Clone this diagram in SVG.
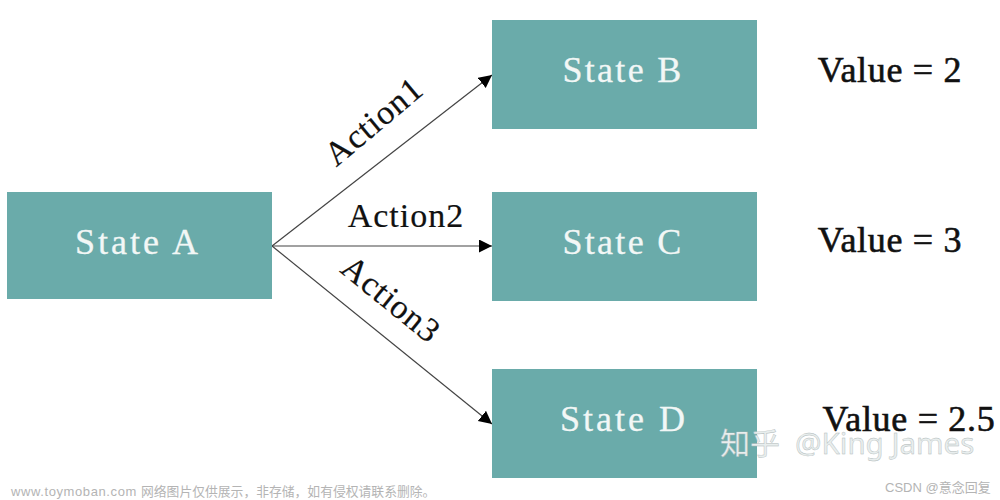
<svg xmlns="http://www.w3.org/2000/svg" width="1000" height="500" viewBox="0 0 1000 500">
<style>
.box{fill:#6aabaa}
.st{font:36px "Liberation Serif",serif;fill:#f2f7f6;text-anchor:middle;letter-spacing:2.3px;stroke:#f2f7f6;stroke-width:.3px}
.val{font:36px "Liberation Serif",serif;fill:#111;text-anchor:middle;letter-spacing:.7px;stroke:#111;stroke-width:.6px}
.act{font:34px "Liberation Serif",serif;fill:#111;text-anchor:middle;letter-spacing:1px;stroke:#111;stroke-width:.2px}
.con{stroke:#444;stroke-width:1.2;fill:none;marker-end:url(#a)}
.wm{font:13px "Liberation Sans","Noto Sans CJK SC",sans-serif;fill:#b4b4b4}
.zh{font:30px "Noto Sans","Noto Sans CJK SC",sans-serif;fill:#e8eeee;stroke:#b0b8b8;stroke-width:.4px}
</style>
<defs><marker id="a" markerUnits="userSpaceOnUse" markerWidth="15" markerHeight="14" refX="13" refY="6.5" orient="auto"><path d="M0 0L13 6.5L0 13z" fill="#000"/></marker></defs>
<rect width="1000" height="500" fill="#fff"/>
<g id="connectors">
<path class="con" d="M272 246L492 75"/>
<path class="con" d="M272 246L492 246"/>
<path class="con" d="M272 246L492 424"/>
</g>
<g id="state-a"><rect class="box" x="7" y="192" width="265" height="107"/><text class="st" x="138" y="254" style="letter-spacing:3px">State A</text></g>
<g id="state-b"><rect class="box" x="492" y="20" width="265" height="109"/><text class="st" x="623" y="82">State B</text></g>
<g id="state-c"><rect class="box" x="492" y="192" width="265" height="109"/><text class="st" x="623" y="254">State C</text></g>
<g id="state-d"><rect class="box" x="492" y="369" width="265" height="109"/><text class="st" x="624" y="431" style="letter-spacing:3px">State D</text></g>
<g id="labels">
<text class="act" transform="translate(381 130) rotate(-40)">Action1</text>
<text class="act" x="406" y="227">Action2</text>
<text class="act" transform="translate(384 308) rotate(39)">Action3</text>
<text class="val" x="890" y="82">Value = 2</text>
<text class="val" x="890" y="252">Value = 3</text>
<text class="val" x="909" y="431">Value = 2.5</text>
</g>
<g id="watermarks">
<text class="zh" x="720" y="454">知乎</text>
<text class="zh" x="795" y="454" style="font-size:29.5px">@King James</text>
<text class="wm" x="11" y="496" letter-spacing=".6">www.toymoban.com</text>
<text class="wm" x="141" y="496" style="font-size:12.8px">网络图片仅供展示，非存储，如有侵权请联系删除。</text>
<text class="wm" x="885" y="492">CSDN @意念回复</text>
</g>
</svg>
